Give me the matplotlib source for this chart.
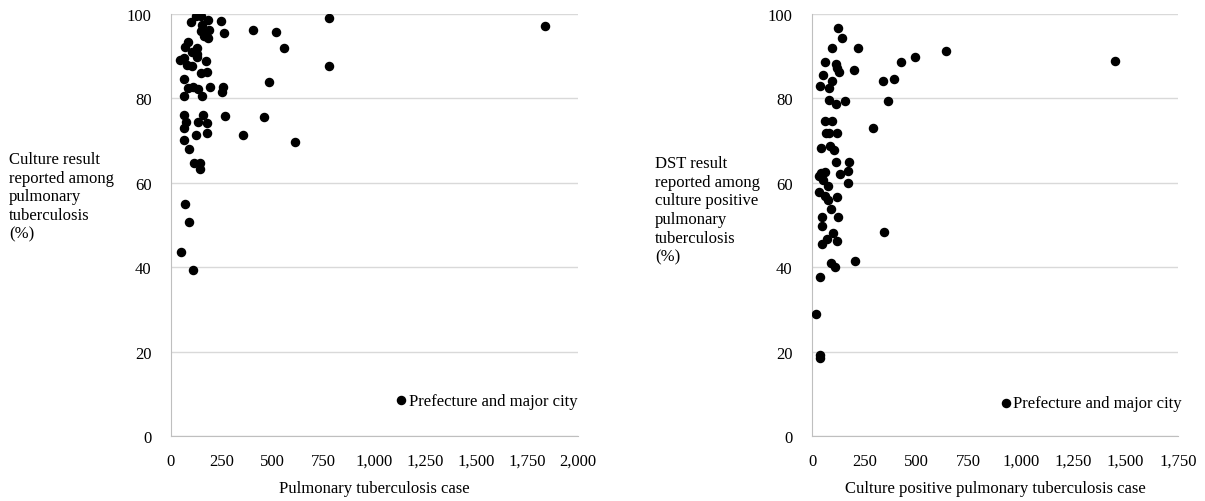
import matplotlib.pyplot as plt
from matplotlib.ticker import FuncFormatter

plt.rcParams['font.family'] = ['Liberation Serif', 'DejaVu Serif']
plt.rcParams['font.size'] = 12

# left panel: pulmonary TB cases vs culture result reported (%)
pul_cases = [121, 147, 98, 183, 247, 778, 154, 147, 188, 260, 404, 516, 164, 183,
             554, 84, 67, 126, 102, 130, 130, 44, 66, 172, 77, 103, 778, 147, 175,
             66, 482, 82, 107, 133, 193, 254, 249, 66, 154, 66, 159, 267, 455, 74,
             131, 175, 66, 121, 175, 355, 65, 609, 88, 115, 144, 144, 70, 88, 48,
             110, 1839]
culture_pct = [99.6, 99.6, 98.2, 98.5, 98.3, 99.1, 97.4, 96.0, 96.3, 95.4, 96.2, 95.7,
               94.7, 94.2, 91.9, 93.4, 92.3, 91.9, 90.9, 90.5, 89.7, 89.1, 89.5, 88.9,
               87.8, 87.7, 87.7, 86.0, 86.3, 84.6, 83.9, 82.4, 82.8, 82.3, 82.6, 82.8,
               81.4, 80.6, 80.6, 76.1, 76.1, 75.8, 75.5, 74.3, 74.5, 74.2, 73.1, 71.3,
               71.8, 71.3, 70.2, 69.7, 68.0, 64.6, 64.6, 63.3, 54.9, 50.7, 43.7, 39.3,
               97.2]

# right panel: culture positive cases vs DST result reported (%)
cp_cases = [124, 145, 96, 222, 643, 491, 427, 64, 113, 118, 131, 199, 53, 97, 341,
            394, 37, 81, 80, 113, 156, 362, 64, 97, 65, 81, 118, 292, 41, 86, 107,
            113, 179, 174, 134, 41, 64, 35, 51, 172, 75, 32, 62, 118, 75, 91, 48,
            124, 48, 346, 102, 70, 120, 48, 206, 89, 109, 37, 19, 37, 38, 1450]
dst_pct = [96.6, 94.2, 92.0, 92.0, 91.3, 89.7, 88.6, 88.6, 88.1, 87.1, 86.2, 86.7,
           85.5, 84.1, 84.1, 84.6, 82.9, 82.5, 79.7, 78.7, 79.3, 79.3, 74.6, 74.6,
           71.7, 71.8, 71.7, 73.1, 68.2, 68.8, 67.8, 65.0, 65.0, 62.9, 62.1, 62.3,
           62.5, 61.7, 60.7, 60.0, 59.2, 57.9, 56.9, 56.7, 55.9, 53.8, 51.8, 51.8,
           49.8, 48.4, 48.0, 46.7, 46.2, 45.4, 41.4, 41.0, 40.0, 37.6, 29.0, 19.2,
           18.6, 88.9]

y_ticks = [0, 20, 40, 60, 80, 100]
legend_label = 'Prefecture and major city'

fig = plt.figure(figsize=(12.05, 5.02), dpi=100)
ax1 = fig.add_axes([0.1419, 0.1295, 0.3378, 0.8406])
ax2 = fig.add_axes([0.6739, 0.1295, 0.3035, 0.8406])

thousands = FuncFormatter(lambda v, p: f'{int(v):,}')

panels = [
    (ax1, pul_cases, culture_pct, 2000, 250,
     'Pulmonary tuberculosis case',
     'Culture result\nreported among\npulmonary\ntuberculosis\n(%)',
     (0.0075, 0.697), (0.553, 0.084)),
    (ax2, cp_cases, dst_pct, 1750, 250,
     'Culture positive pulmonary tuberculosis case',
     'DST result\nreported among\nculture positive\npulmonary\ntuberculosis\n(%)',
     (0.5436, 0.689), (0.516, 0.077)),
]

for ax, xs, ys, xmax, xstep, xlabel, ylabel, ylab_pos, leg_pos in panels:
    ax.scatter(xs, ys, s=34, color='black', zorder=3, label=legend_label)
    ax.set_xlim(0, xmax)
    ax.set_ylim(0, 100)
    ax.set_xticks(range(0, xmax + 1, xstep))
    ax.set_yticks(y_ticks)
    ax.xaxis.set_major_formatter(thousands)
    ax.grid(axis='y', color='#d9d9d9', linewidth=1)
    ax.set_axisbelow(True)
    for side in ['top', 'right']:
        ax.spines[side].set_visible(False)
    for side in ['left', 'bottom']:
        ax.spines[side].set_color('#bfbfbf')
    ax.tick_params(length=0, labelsize=12)
    ax.tick_params(axis='x', pad=12)
    ax.tick_params(axis='y', pad=14)
    ax.set_xlabel(xlabel, fontsize=12, labelpad=8)
    fig.text(ylab_pos[0], ylab_pos[1], ylabel, fontsize=12, ha='left', va='top',
             linespacing=1.22)
    ax.legend(loc='center left', bbox_to_anchor=leg_pos, frameon=False,
              handlelength=0.6, handletextpad=0.15, borderpad=0, borderaxespad=0,
              fontsize=12, scatterpoints=1)

fig.savefig('out.png', dpi=100)
